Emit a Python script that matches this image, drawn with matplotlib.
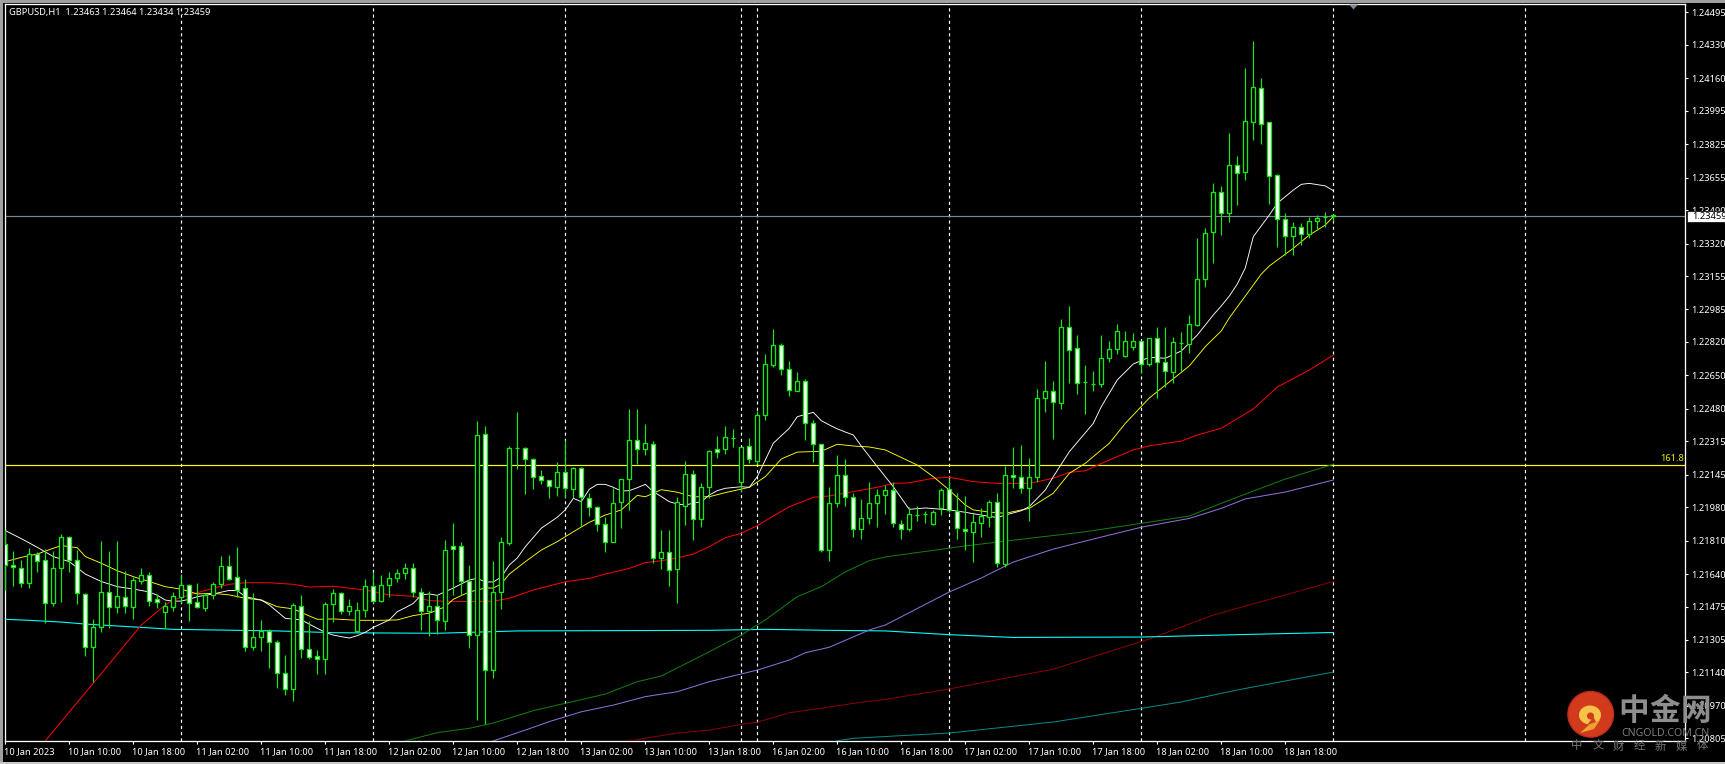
import matplotlib
matplotlib.use("Agg")
import matplotlib.pyplot as plt
import numpy as np
from matplotlib.patches import Rectangle, Circle, Polygon, Ellipse
from matplotlib.transforms import ScaledTranslation

plt.rcParams['font.family'] = ['Noto Sans', 'DejaVu Sans']

# all prices below are points above BASE (1 point = 0.00001)
BASE = 1.2
highs = [1864,1756,1712,1771,1754,1766,1757,1842,1832,1762,
         1542,1410,1808,1756,1808,1656,1627,1669,1652,1537,
         1500,1551,1639,1590,1593,1542,1602,1730,1737,1776,
         1613,1542,1407,1359,1305,1229,1491,1534,1400,1254,
         1498,1563,1549,1513,1496,1613,1649,1635,1652,1666,
         1695,1695,1568,1554,1534,1813,1900,1803,1686,2418,
         2393,1706,1828,2291,2464,2286,2231,2169,2120,2210,
         2322,2186,2184,2052,1986,1932,2076,2123,2477,2477,
         2401,2315,1864,1864,2030,2213,2167,2101,2269,2342,
         2393,2377,2284,2330,2467,2759,2884,2813,2722,2666,
         2630,2423,2300,2083,2245,2225,2051,2022,2106,2072,
         2093,2108,1915,1979,1986,1959,1966,2076,2127,2051,
         2037,1949,1974,2016,2051,2189,2284,2296,2228,2579,
         2723,2620,2935,3003,2855,2703,2672,2855,2825,2911,
         2875,2864,2825,2841,2896,2896,2847,2872,2957,3348,
         3398,3626,3613,3880,3765,4212,4350,4160,3936,3674,
         3475,3430,3423,3457,3465,3480,3464]
lows = [1559,1581,1576,1571,1652,1393,1480,1500,1652,1490,
        1225,1093,1347,1364,1444,1444,1413,1590,1480,1466,
        1364,1452,1491,1402,1469,1454,1515,1568,1610,1525,
        1251,1254,1251,1164,1061,1027,996,1214,1209,1132,
        1132,1398,1437,1432,1339,1424,1495,1500,1522,1602,
        1615,1525,1356,1327,1336,1356,1534,1534,1266,898,
        878,1112,1462,1788,2176,2049,2072,2099,2028,2038,
        2025,2025,1886,1935,1860,1754,1803,1876,1966,2200,
        2245,1695,1666,1581,1494,1889,1813,1881,2028,2230,
        2250,2286,2057,2205,2198,2425,2694,2653,2547,2569,
        2322,2210,1754,1708,1982,1986,1830,1817,1894,1881,
        1945,1881,1820,1859,1911,1898,1889,1940,1957,1820,
        1762,1701,1830,1881,1676,1676,2079,2054,1911,2110,
        2465,2327,2481,2613,2555,2454,2571,2592,2718,2759,
        2742,2779,2662,2696,2533,2592,2610,2674,2765,2901,
        3098,3223,3365,3431,3516,3643,3846,3826,3521,3304,
        3262,3262,3313,3347,3389,3406,3434]
opens = [1791,1685,1673,1593,1744,1710,1491,1669,1827,1710,
         1537,1268,1373,1551,1474,1522,1474,1607,1634,1512,
         1446,1474,1525,1583,1497,1469,1532,1588,1679,1624,
         1568,1268,1319,1349,1293,1136,1056,1480,1258,1225,
         1207,1486,1542,1454,1353,1456,1578,1502,1583,1618,
         1644,1669,1551,1451,1476,1403,1781,1783,1603,1329,
         2350,1154,1547,1796,2279,2279,2223,2137,2120,2081,
         2157,2074,2178,2028,1979,1893,1805,2005,2122,2320,
         2274,2300,1720,1751,1664,1987,2147,1918,2084,2274,
         2274,2332,2109,2289,2216,2447,2704,2803,2681,2572,
         2620,2409,2300,1761,1999,2142,2033,1868,1923,1999,
         2040,2066,1896,1868,1940,1944,1896,1977,2071,1962,
         1871,1855,1898,1932,2005,1691,2142,2132,2076,2132,
         2536,2569,2508,2894,2788,2615,2606,2605,2740,2782,
         2750,2796,2823,2706,2838,2716,2669,2816,2811,2904,
         3138,3377,3581,3477,3718,3685,3939,4109,3936,3667,
         3446,3360,3403,3370,3436,3453,3463]
closes = [1686,1674,1593,1744,1705,1491,1669,1827,1710,1542,
          1268,1369,1547,1474,1527,1480,1608,1634,1505,1500,
          1476,1527,1583,1495,1471,1532,1588,1679,1613,1561,
          1268,1319,1349,1293,1136,1054,1481,1258,1220,1207,
          1486,1542,1454,1480,1456,1578,1502,1583,1618,1644,
          1669,1551,1451,1476,1405,1761,1766,1603,1329,2345,
          1151,1547,1801,2279,2279,2223,2135,2117,2086,2157,
          2076,2178,2030,1979,1893,1801,1999,2122,2320,2274,
          2305,1720,1751,1659,2008,2147,1918,2084,2264,2262,
          2335,2332,2284,2223,2447,2706,2803,2681,2574,2620,
          2409,2300,1761,1999,2142,2033,1868,1923,1999,2040,
          2066,1898,1868,1944,1940,1944,1954,2066,1966,1873,
          1857,1903,1937,2005,1696,2142,2132,2076,2132,2533,
          2569,2513,2894,2777,2610,2615,2606,2737,2782,2874,
          2823,2823,2706,2838,2716,2674,2818,2816,2910,3138,
          3372,3581,3477,3718,3680,3941,4114,3929,3665,3446,
          3360,3403,3370,3433,3448,3453,3459]

white_x = [0,2,4,6,8,10,12,14,16,18,19,20,21,22,23,24,26,28,29,30,32,33,34,35,37,39,40,41,42,43,44,45,46,48,49,50,51,52,53,54,56,57,58,59,60,61,62,63,64,65,67,69,70,71,72,73,74,75,76,77,78,79,80,81,82,83,84,85,86,87,88,89,90,92,93,94,95,96,98,99,101,102,103,104,105,106,107,109,111,113,115,118,120,122,124,125,127,128,130,131,133,136,137,139,141,143,145,147,149,151,152,153,154,155,156,158,159,161,162,163,165,166]
white_y = [1861,1820,1776,1729,1703,1640,1602,1576,1564,1549,1532,1508,1502,1503,1512,1525,1539,1557,1556,1525,1508,1483,1449,1415,1407,1364,1344,1330,1322,1315,1327,1344,1369,1407,1449,1469,1491,1534,1539,1532,1569,1590,1610,1618,1600,1600,1625,1686,1722,1779,1873,1929,1966,2025,2008,2071,2096,2096,2081,2062,2064,2079,2096,2059,2034,2008,1996,1991,2000,2008,2042,2064,2076,2084,2081,2135,2220,2305,2381,2440,2462,2420,2398,2378,2362,2347,2291,2186,2084,1969,1976,1966,1954,1940,1927,1940,1962,1983,2067,2135,2262,2406,2491,2627,2708,2742,2737,2774,2855,2957,3003,3053,3114,3196,3355,3465,3525,3592,3621,3626,3613,3589]
yellow_x = [0,2,4,5,7,9,10,12,14,16,18,20,22,24,26,28,30,32,34,36,38,39,41,44,47,49,51,53,55,56,58,60,61,62,63,65,67,69,71,73,75,77,79,80,82,84,86,88,90,93,95,97,99,102,104,106,108,110,114,116,118,120,121,123,125,128,131,133,135,138,140,143,148,150,152,153,154,155,156,157,158,159,161,163,165,166]
yellow_y = [1703,1725,1742,1757,1785,1774,1729,1695,1657,1627,1602,1576,1563,1539,1542,1534,1517,1508,1474,1463,1427,1410,1412,1405,1405,1407,1429,1441,1474,1512,1549,1569,1569,1590,1640,1703,1762,1805,1855,1903,1940,1966,2040,2033,2069,2056,2033,2033,2054,2081,2135,2225,2260,2264,2300,2291,2286,2271,2194,2135,2067,1991,1966,1955,1949,1974,2051,2152,2203,2305,2406,2535,2698,2796,2876,2942,2998,3053,3109,3165,3206,3236,3296,3363,3414,3457]
red_x = [5,11,17,20,21,23,26,28,30,33,36,38,41,45,48,51,53,56,61,63,66,70,73,75,78,80,82,84,86,88,90,92,94,96,98,101,103,106,109,111,113,116,118,121,124,128,131,133,135,138,141,143,147,149,152,156,159,163,166]
red_y = [792,1086,1381,1483,1508,1534,1568,1588,1596,1596,1588,1574,1578,1559,1534,1527,1505,1500,1502,1517,1559,1601,1618,1640,1669,1698,1708,1722,1742,1779,1825,1847,1886,1935,1982,2030,2037,2059,2081,2101,2104,2127,2132,2110,2101,2101,2127,2157,2165,2220,2271,2292,2316,2347,2381,2479,2591,2677,2753]
green_x = [50,54,58,61,64,66,70,75,79,82,88,92,95,99,102,105,108,110,120,127,135,142,148,152,156,160,166]
green_y = [792,834,856,883,920,946,983,1030,1093,1122,1245,1330,1407,1525,1576,1651,1708,1727,1783,1817,1855,1898,1935,2000,2062,2123,2198]
purple_x = [61,65,68,70,72,76,80,84,88,94,98,100,103,108,110,118,122,126,131,136,142,148,152,155,160,166]
purple_y = [792,847,890,915,940,974,1017,1042,1093,1152,1203,1240,1268,1356,1381,1549,1620,1701,1767,1818,1878,1923,1974,2022,2057,2118]
cyan_x = [0,3,7,10,14,17,21,34,41,54,64,88,95,103,110,118,126,142,155,166]
cyan_y = [1410,1405,1396,1386,1376,1369,1359,1351,1342,1339,1351,1354,1359,1354,1351,1332,1318,1320,1333,1343]
darkred_x = [78,84,88,92,94,98,102,106,110,118,131,143,151,166]
darkred_y = [792,832,847,876,887,935,958,983,1003,1056,1157,1310,1432,1602]
teal_x = [104,106,109,118,131,143,147,154,166]
teal_y = [793,805,812,832,888,964,990,1051,1142]

fib_level = 1.22193
fib_label = "161.8"
last_price = 1.23459
separators = [22, 46, 70, 92, 94, 118, 142, 166, 190]
y_ticks = [1.24495,1.24330,1.24160,1.23995,1.23825,1.23655,1.23490,1.23320,1.23155,
           1.22985,1.22820,1.22650,1.22480,1.22315,1.22145,1.21980,1.21810,1.21640,
           1.21475,1.21305,1.21140,1.20970,1.20805]
x_labels = ["10 Jan 2023","10 Jan 10:00","10 Jan 18:00","11 Jan 02:00","11 Jan 10:00",
            "11 Jan 18:00","12 Jan 02:00","12 Jan 10:00","12 Jan 18:00","13 Jan 02:00",
            "13 Jan 10:00","13 Jan 18:00","16 Jan 02:00","16 Jan 10:00","16 Jan 18:00",
            "17 Jan 02:00","17 Jan 10:00","17 Jan 18:00","18 Jan 02:00","18 Jan 10:00",
            "18 Jan 18:00"]
header = "GBPUSD,H1  1.23463 1.23464 1.23434 1.23459"

W, H = 1725, 764
px = 0.72  # one pixel in points at dpi 100
FS = 6.7
fig = plt.figure(figsize=(W/100, H/100), dpi=100, facecolor='black')
L, R, T, B = 4.5, 1685.0, 4.4, 741.0
ax = fig.add_axes([L/W, (H-B)/H, (R-L)/W, (B-T)/H], facecolor='black')
ax.set_xlim((L-5.3)/8, (R-5.3)/8)
ax.set_ylim(1.207915, 1.245356)

def pr(v):
    return BASE + np.asarray(v, dtype=float)*1e-5

for s in ('left','right','top','bottom'):
    ax.spines[s].set_color('white')
    ax.spines[s].set_linewidth(1.3*px)

for xs in separators:
    ax.axvline(xs, color='white', lw=1.2*px, dashes=(2.6, 2.6), zorder=1)

ax.axhline(fib_level, color='#ffff00', lw=1.2*px, zorder=2)
ax.axhline(last_price, color='#778899', lw=1.2*px, zorder=2)
ax.text(0.9995, fib_level+0.00010, fib_label, color='#e8e800', fontsize=FS,
        ha='right', va='bottom', transform=ax.get_yaxis_transform(), zorder=3)

for xs, ys, c, lw in [(teal_x, teal_y, '#008b8b', 1.0), (darkred_x, darkred_y, '#8b0000', 1.0),
                      (cyan_x, cyan_y, '#00ffff', 1.1), (purple_x, purple_y, '#9370db', 1.0),
                      (green_x, green_y, '#0f800f', 1.0), (red_x, red_y, '#ff0000', 1.0),
                      (yellow_x, yellow_y, '#ffff00', 0.9), (white_x, white_y, '#ffffff', 0.9)]:
    ax.plot(xs, pr(ys), color=c, lw=lw*px, zorder=3)

idx = np.arange(len(opens))
o, h, l, c = pr(opens), pr(highs), pr(lows), pr(closes)
GREEN = '#16e816'
ax.vlines(idx, l, h, color=GREEN, lw=1.2*px, zorder=4)
fills = ['white' if cc < oo else 'black' for oo, cc in zip(opens, closes)]
ax.bar(idx, np.abs(c-o), bottom=np.minimum(o, c), width=0.5, color=fills,
       edgecolor=GREEN, linewidth=1.3*px, zorder=5)

ax.yaxis.tick_right()
ax.set_yticks(y_ticks)
ax.set_yticklabels([f"{v:.5f}" for v in y_ticks])
ax.tick_params(axis='y', length=3*px, width=1.1*px, color='white', labelcolor='white',
               labelsize=FS, pad=3.6*px)
ax.set_xticks(np.arange(len(x_labels))*8)
ax.set_xticklabels(x_labels, ha='left')
ax.tick_params(axis='x', length=3*px, width=1.1*px, color='white', labelcolor='white',
               labelsize=FS, pad=3.5*px)
shift = ScaledTranslation(-1.5/100, 0, fig.dpi_scale_trans)
for lab in ax.get_xticklabels():
    lab.set_transform(lab.get_transform() + shift)

# window chrome, markers and logo in pixel coordinates
ov = fig.add_axes([0, 0, 1, 1], facecolor='none')
ov.set_xlim(0, W); ov.set_ylim(H, 0); ov.axis('off')
ov.add_patch(Rectangle((0, 0), W, 2.5, color='#a0a0a0', lw=0))
ov.add_patch(Rectangle((0, 0), 2.5, H, color='#a0a0a0', lw=0))
ov.add_patch(Rectangle((0, 761.5), W, 3, color='#c8c8c8', lw=0))
ov.text(9, 12.5, header, color='white', fontsize=6.67, va='center', ha='left')
ov.add_patch(Polygon([(1349, 4.5), (1358, 4.5), (1353.5, 9.5)], color='#778899', lw=0))
ov.add_patch(Rectangle((1686.5, 210.5), 38.5, 11.5, facecolor='white', edgecolor='black', lw=0.5))
ov.text(1692, 216.4, "1.23459", color='black', fontsize=FS, va='center', ha='left')

ov.add_patch(Circle((1590.7, 714.3), 22.8, facecolor='#d23a1c', edgecolor='#c02c1c', lw=1))
ov.add_patch(Ellipse((1590, 715), 22, 19, facecolor='#f5c24a', lw=0))
ov.add_patch(Polygon([(1600, 720), (1594, 729), (1580, 733), (1590, 724)], facecolor='#f0a030', lw=0))
ov.add_patch(Circle((1590.5, 716), 3.5, facecolor='#d23a1c', lw=0))
ov.add_patch(Polygon([(1593, 716), (1596, 722), (1587, 725), (1591, 720)], facecolor='#d23a1c', lw=0))
cjk = ['Noto Sans CJK SC', 'DejaVu Sans']
for ch, xc in zip("中金网", (1634, 1665, 1696)):
    ov.text(xc, 711, ch, color='#8e8e8e', fontsize=22, family=cjk, weight='bold', ha='center', va='center')
for ch, xc in zip("中文财经新媒体", np.linspace(1577, 1702, 7)):
    ov.text(xc, 746, ch, color='#777777', fontsize=8.2, family=cjk, ha='center', va='center')
ov.text(1665.5, 733, "CNGOLD.COM.CN", color='#7c7c7c', fontsize=7.6, ha='center', va='center')

fig.savefig('out.png', dpi=100, facecolor='black')
